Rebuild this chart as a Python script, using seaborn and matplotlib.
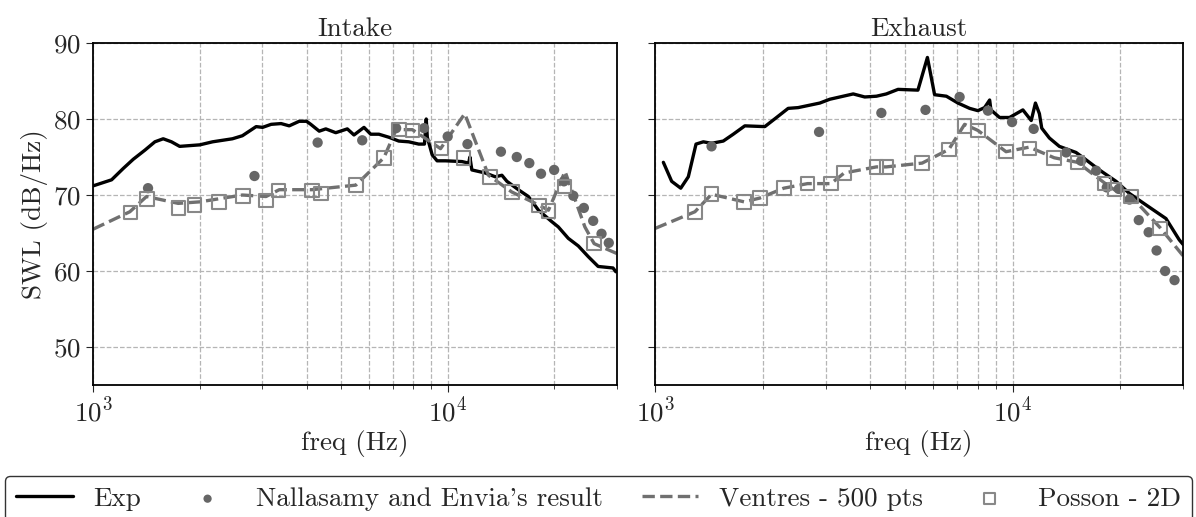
import numpy as np
import matplotlib
matplotlib.use("Agg")
import matplotlib.pyplot as plt
import seaborn as sns

# =========================
# STYLE
# =========================
sns.set_style("ticks")
plt.rcParams['font.family'] = 'serif'
plt.rcParams['font.serif'] = ['cmr10', 'DejaVu Serif']
plt.rcParams['mathtext.fontset'] = 'cm'
plt.rcParams['axes.formatter.use_mathtext'] = True
FS = 19.5
plt.rcParams['font.size'] = FS

# =========================
# DATA - INTAKE
# =========================
int_exp_f = [1000, 1128, 1217, 1298, 1400, 1494, 1577, 1664, 1755, 2000, 2173, 2472, 2637, 2883, 3006,
             3178, 3390, 3574, 3813, 4000, 4111, 4343, 4532, 4834, 5211, 5442, 5807, 6066, 6397, 6826,
             7278, 7766, 8285, 8600, 8700, 8760, 9040, 9335, 9860, 10970, 11460, 11550, 11700, 12760, 13620,
             14220, 14690, 15820, 16890, 18030, 19650, 20510, 21880, 23350, 24900, 26560, 29250, 29800]
int_exp_swl = [71.2, 72.0, 73.5, 74.7, 75.9, 77.0, 77.4, 77.0, 76.4, 76.6, 77.0, 77.4, 77.8, 79.0, 78.9,
               79.3, 79.4, 79.1, 79.7, 79.7, 79.3, 78.4, 78.7, 78.2, 78.7, 77.9, 78.9, 78.0, 78.0, 77.6,
               77.1, 77.0, 76.7, 76.7, 80.0, 77.6, 75.3, 74.5, 74.5, 74.4, 74.2, 75.0, 73.3, 72.9, 72.4,
               72.6, 71.8, 70.7, 69.8, 68.0, 66.5, 65.8, 64.3, 63.3, 61.9, 60.6, 60.4, 59.9]

int_nal_f = [1429, 2852, 4298, 5741, 7155, 8577, 10000, 11370, 14130, 15660, 16990, 18330, 19960,
             21270, 22610, 24210, 25720, 27150, 28460]
int_nal_swl = [70.9, 72.5, 76.9, 77.2, 78.8, 78.8, 77.7, 76.7, 75.7, 75.0, 74.2, 72.8, 73.3,
               71.8, 69.9, 68.3, 66.6, 64.9, 63.7]

int_ven_f = [1000, 1270, 1415, 1738, 2000, 2637, 3075, 3350, 4140, 5508, 6607, 7155, 7950, 9547,
             11170, 13030, 15160, 18030, 19240, 21420, 24370, 25880, 30000]
int_ven_swl = [65.5, 67.8, 69.8, 68.9, 69.1, 70.0, 69.8, 70.7, 70.7, 71.3, 74.9, 78.6, 78.6, 76.1,
               80.7, 72.6, 70.4, 68.7, 68.0, 73.1, 65.8, 63.6, 62.3]

int_pos_f = [1276, 1421, 1743, 1935, 2265, 2643, 3075, 3337, 4140, 4389, 5508, 6607, 7278, 7950,
             9595, 11090, 13180, 15160, 18120, 19240, 21340, 25880]
int_pos_swl = [67.7, 69.5, 68.3, 68.7, 69.1, 69.9, 69.3, 70.6, 70.6, 70.2, 71.3, 74.9, 78.6, 78.5,
               76.1, 74.9, 72.4, 70.4, 68.6, 67.9, 71.1, 63.6]

# =========================
# DATA - EXHAUST
# =========================
exh_exp_f = [1055, 1113, 1180, 1239, 1302, 1365, 1439, 1552, 1655, 1783, 2028, 2187, 2357, 2513, 2890,
             3082, 3359, 3584, 3860, 4162, 4436, 4783, 5437, 5780, 6053, 6531, 7037, 7586, 8000, 8351,
             8630, 8700, 9200, 9810, 10690, 11280, 11590, 11890, 12070, 12680, 13520, 15050, 15880, 17500,
             19480, 21240, 23620, 26870, 29270, 30000]
exh_exp_swl = [74.3, 71.8, 70.9, 72.4, 76.7, 77.0, 76.8, 77.1, 78.0, 79.1, 79.0, 80.2, 81.4, 81.5, 82.1,
               82.6, 83.0, 83.3, 82.9, 83.0, 83.3, 83.9, 83.8, 88.1, 83.2, 83.0, 82.1, 81.4, 81.1, 81.5,
               82.5, 81.2, 80.2, 80.2, 81.2, 79.8, 82.1, 80.7, 78.8, 77.5, 76.4, 75.6, 74.8, 73.3,
               71.8, 70.2, 68.7, 66.9, 64.1, 63.5]

exh_nal_f = [1439, 2876, 4296, 5709, 7112, 8534, 9970, 11460, 14130, 15560, 17140, 18350, 19820,
             21240, 22550, 24030, 25290, 26720, 28390]
exh_nal_swl = [76.4, 78.3, 80.8, 81.2, 82.9, 81.1, 79.6, 78.7, 75.6, 74.5, 73.2, 71.0, 70.8,
               69.4, 66.7, 65.1, 62.7, 60.0, 58.8]

exh_ven_f = [1000, 1293, 1439, 1775, 1964, 2292, 2671, 3106, 3381, 4162, 4436, 5587, 6636, 7345,
             8000, 9591, 11140, 13080, 15200, 18070, 19260, 21480, 25880, 30000]
exh_ven_swl = [65.6, 67.8, 70.1, 69.1, 69.6, 70.9, 71.5, 71.5, 72.9, 73.7, 73.7, 74.2, 76.0, 79.3,
               78.5, 75.7, 76.3, 74.9, 74.3, 71.6, 70.7, 69.8, 65.7, 62.0]

exh_pos_f = [1293, 1439, 1775, 1964, 2292, 2671, 3106, 3381, 4162, 4436, 5587, 6636, 7345, 8000,
             9591, 11140, 13080, 15200, 18070, 19260, 21480, 25880]
exh_pos_swl = [67.8, 70.1, 69.1, 69.6, 70.9, 71.5, 71.5, 72.9, 73.7, 73.7, 74.2, 76.0, 79.1, 78.5,
               75.7, 76.1, 74.9, 74.3, 71.5, 70.7, 69.8, 65.6]

panels = [
    ("Intake", int_exp_f, int_exp_swl, int_nal_f, int_nal_swl, int_ven_f, int_ven_swl, int_pos_f, int_pos_swl),
    ("Exhaust", exh_exp_f, exh_exp_swl, exh_nal_f, exh_nal_swl, exh_ven_f, exh_ven_swl, exh_pos_f, exh_pos_swl),
]

labels = ["Exp", "Nallasamy and Envia's result", "Ventres - 500 pts", "Posson - 2D"]

# =========================
# FIGURE
# =========================
fig = plt.figure(figsize=(11.96, 5.17), dpi=100)
ax1 = fig.add_axes([0.0778, 0.2553, 0.438, 0.6615])
ax2 = fig.add_axes([0.5477, 0.2553, 0.4415, 0.6615], sharey=ax1)

for ax, (title, ef, es, nf, ns, vf, vs, pf, ps) in zip([ax1, ax2], panels):
    ax.set_xscale('log')

    sns.lineplot(x=ef, y=es, ax=ax, color='black', linewidth=2.4,
                 estimator=None, sort=False, label=labels[0])
    sns.scatterplot(x=nf, y=ns, ax=ax, color='#666666', s=55, edgecolor='none',
                    label=labels[1], zorder=3)
    sns.lineplot(x=vf, y=vs, ax=ax, color='#707070', linewidth=2.4, linestyle='--',
                 estimator=None, sort=False, label=labels[2])
    sns.scatterplot(x=pf, y=ps, ax=ax, marker='s', s=95, facecolor='none',
                    edgecolor='#888888', linewidth=1.5, label=labels[3], zorder=4)

    ax.set_xlim(1000, 30000)
    ax.set_ylim(45, 90)
    ax.set_yticks([50, 60, 70, 80, 90])
    ax.set_title(title, fontsize=FS, pad=5)
    ax.set_xlabel("freq (Hz)", fontsize=FS, labelpad=2)
    ax.grid(True, which='both', axis='x', linestyle='--', color='#b5b5b5', linewidth=0.9)
    ax.grid(True, which='major', axis='y', linestyle='--', color='#b5b5b5', linewidth=0.9)
    ax.set_axisbelow(True)
    ax.tick_params(axis='both', which='major', labelsize=FS, length=5)
    ax.tick_params(axis='x', which='minor', length=3)
    for sp in ax.spines.values():
        sp.set_linewidth(1.3)
        sp.set_color('black')

ax1.set_ylabel("SWL (dB/Hz)", fontsize=FS, labelpad=4)
ax2.tick_params(axis='y', labelleft=False)

# =========================
# LEGEND
# =========================
handles, labs = ax1.get_legend_handles_labels()
ax1.get_legend().remove()
ax2.get_legend().remove()

fig.legend(handles, labs, loc='upper left', ncol=4, mode='expand',
           bbox_to_anchor=(5 / 1196, 1 - 476 / 517, 1187 / 1196, 0.0),
           fontsize=FS, markerscale=0.8, frameon=True, fancybox=True,
           edgecolor='black', borderaxespad=0, handlelength=2.1, handletextpad=0.75)
fig.legends[0].get_frame().set_linewidth(1.0)

plt.savefig("out.png", dpi=100)
